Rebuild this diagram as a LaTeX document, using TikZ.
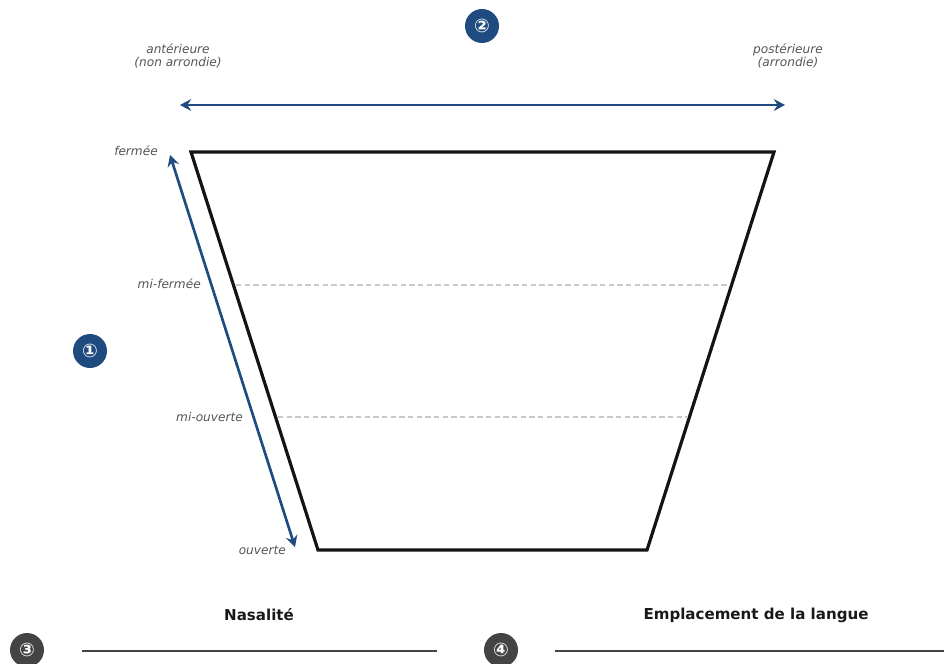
\documentclass[tikz,border=0pt]{standalone}
\usepackage{fontspec}
\setmainfont{DejaVu Sans}
\usetikzlibrary{arrows.meta}
\definecolor{navy}{HTML}{1F4B80}
\definecolor{dgray}{HTML}{444444}
\definecolor{lgray}{HTML}{555555}
\definecolor{dashgray}{HTML}{C8C8C8}
\tikzset{
  badge/.style={circle,fill=navy,minimum size=25.5pt,inner sep=0pt,text=white,font=\fontsize{14}{14}\selectfont\bfseries},
  gbadge/.style={badge,fill=dgray},
  lbl/.style={text=lgray,font=\fontsize{9.1}{10.2}\selectfont\itshape,inner sep=0pt,align=center},
  ttl/.style={text=black!90,font=\fontsize{11.3}{13}\selectfont\bfseries,inner sep=0pt},
  axis/.style={draw=navy,line width=2pt,{Stealth[length=8.5pt,width=9pt,inset=3pt]}-{Stealth[length=8.5pt,width=9pt,inset=3pt]}},
  trap/.style={draw=black!92,line width=2.4pt,line join=miter},
  grid/.style={draw=dashgray,line width=0.9pt,dash pattern=on 4pt off 2.5pt},
  sep/.style={draw=dgray,line width=2.2pt}
}
\begin{document}
\begin{tikzpicture}[x=0.75pt,y=-0.75pt]
\useasboundingbox (0,0) rectangle (944,663);
% badges
\node[badge] (b2) at (482,26) {②};
\node[badge] (b1) at (90,351) {①};
\node[gbadge] (b3) at (27,650) {③};
\node[gbadge] (b4) at (501,650) {④};
% top labels
\node[lbl] (ant) at (178,56) {antérieure\\(non arrondie)};
\node[lbl] (post) at (788,56) {postérieure\\(arrondie)};
% horizontal axis
\coordinate (hl) at (180,105);
\coordinate (hr) at (785,105);
\draw[axis] (hl) -- (hr);
% trapezoid
\coordinate (tl) at (191,152);
\coordinate (tr) at (774,152);
\coordinate (br) at (647,550);
\coordinate (bl) at (318,550);
\draw[trap] (tl) -- (tr) -- (br) -- (bl) -- cycle;
% dashed levels
\coordinate (m1l) at (236,285);
\coordinate (m1r) at (730,285);
\coordinate (m2l) at (278,417);
\coordinate (m2r) at (688,417);
\draw[grid] (m1l) -- (m1r);
\draw[grid] (m2l) -- (m2r);
% height labels
\node[lbl,anchor=east] (f) at (158,151) {fermée};
\node[lbl,anchor=east] (mf) at (201,284) {mi-fermée};
\node[lbl,anchor=east] (mo) at (243,417) {mi-ouverte};
\node[lbl,anchor=east] (o) at (286,550) {ouverte};
% vertical axis
\coordinate (vt) at (170,155);
\coordinate (vb) at (295,547);
\draw[axis] (vt) -- (vb);
% bottom sections
\node[ttl] (nas) at (259,615) {Nasalité};
\node[ttl] (emp) at (756,615) {Emplacement de la langue};
\coordinate (s1l) at (82,651);
\coordinate (s1r) at (437,651);
\coordinate (s2l) at (555,651);
\coordinate (s2r) at (944,651);
\draw[sep] (s1l) -- (s1r);
\draw[sep] (s2l) -- (s2r);
\end{tikzpicture}
\end{document}
